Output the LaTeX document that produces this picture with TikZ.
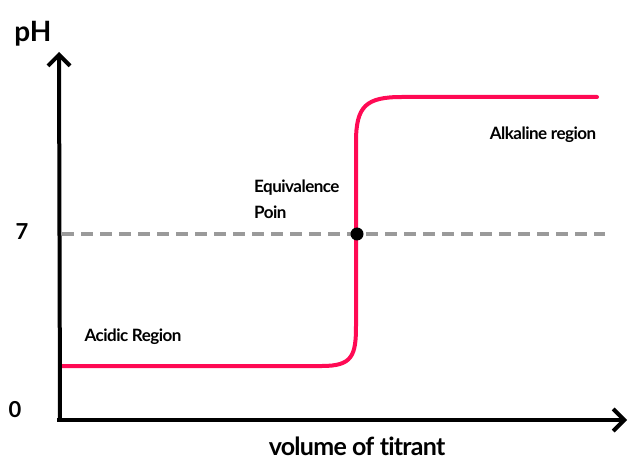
\documentclass[tikz,border=0pt]{standalone}
\usepackage{fontspec}
\setmainfont{Lato}[Ligatures=NoCommon]
\usetikzlibrary{arrows.meta}
\definecolor{curvered}{HTML}{FF0A54}
\definecolor{dashgray}{HTML}{9A9A9A}
\tikzset{
  axis/.style={line width=4pt, -{Straight Barb[length=11pt,width=22pt,line width=4pt]}},
  curve/.style={line width=4pt, curvered, line cap=round},
  refline/.style={line width=3.5pt, dashgray, dash pattern=on 12pt off 7pt},
  lbl/.style={font=\fontsize{17}{19}\selectfont\bfseries\addfontfeature{LetterSpace=-3}, inner sep=0pt},
}
\begin{document}
\begin{tikzpicture}[x=1pt,y=-1pt]
\useasboundingbox (0,0) rectangle (629,462);
\coordinate (ytop) at (59,52);
\coordinate (xend) at (627,420);
\coordinate (dl) at (62,234);
\coordinate (dr) at (605,234);
\draw[refline] (dl) -- (dr);
\draw[curve] (62,366) -- (322,366) .. controls (352,366) and (356,356) .. (356,326)
  -- (356,142) .. controls (356,106) and (366,97) .. (402,97) -- (597,97);
\node[circle, fill=black, minimum size=13pt, inner sep=0pt] (eq) at (357,234) {};
\draw[axis] (60,420) -- (ytop);
\draw[axis] (57,420) -- (xend);
\node[font=\fontsize{28}{30}\selectfont\bfseries, inner sep=0pt] (ph) at (33,34) {pH};
\node[font=\fontsize{22}{24}\selectfont\bfseries, inner sep=0pt] (seven) at (22,232) {7};
\node[font=\fontsize{22}{24}\selectfont\bfseries, inner sep=0pt] (zero) at (15,410) {0};
\node[lbl] (acid) at (133,337) {Acidic Region};
\node[lbl, anchor=west] (equiv) at (254,188) {Equivalence};
\node[lbl, anchor=west] (poin) at (254,212) {Poin};
\node[lbl] (alk) at (543,135) {Alkaline region};
\node[font=\fontsize{25}{27}\selectfont\bfseries\addfontfeature{LetterSpace=-3}, inner sep=0pt] (xlab) at (357,446) {volume of titrant};
\end{tikzpicture}
\end{document}
